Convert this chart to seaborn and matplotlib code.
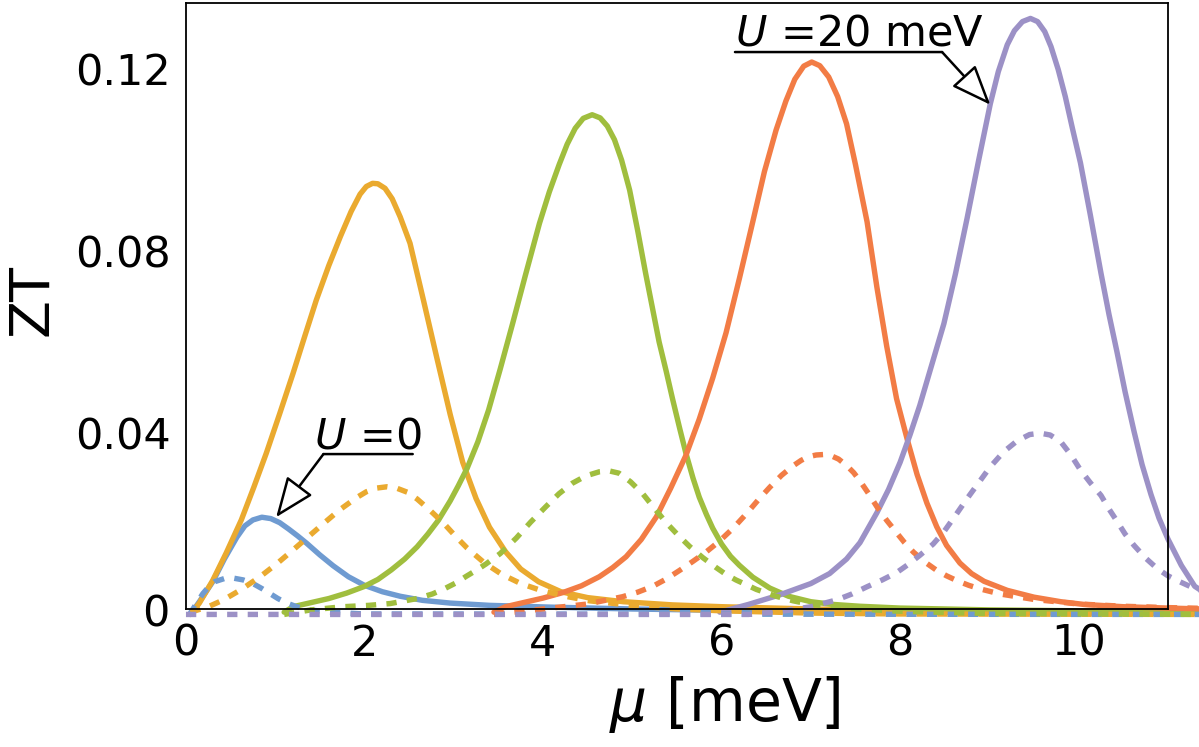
import matplotlib
matplotlib.use("Agg")
import matplotlib.pyplot as plt
import seaborn as sns
import pandas as pd

# ---------------- data ----------------
blue_mu = [0.05, 0.15, 0.30, 0.43, 0.57, 0.66, 0.75, 0.85, 0.95, 1.05, 1.15, 1.25, 1.35, 1.50, 1.65, 1.82, 2.00, 2.20, 2.40, 2.65, 2.96, 3.40, 4.10, 5.0, 6.0, 7.0, 8.0, 9.0, 10.0, 11.4]
blue_zt = [0.0, 0.0028, 0.0072, 0.0122, 0.0170, 0.0195, 0.0208, 0.0214, 0.0211, 0.0202, 0.0188, 0.0173, 0.0157, 0.0131, 0.0107, 0.0083, 0.0064, 0.0050, 0.0040, 0.0031, 0.0025, 0.0020, 0.0016, 0.0012, 0.0009, 0.0007, 0.0005, 0.0004, 0.0003, 0.0002]

orange_mu = [0.05, 0.15, 0.30, 0.45, 0.62, 0.76, 0.90, 1.05, 1.20, 1.33, 1.46, 1.60, 1.73, 1.85, 1.95, 2.02, 2.09, 2.15, 2.23, 2.31, 2.40, 2.51, 2.66, 2.81, 2.96, 3.10, 3.25, 3.40, 3.58, 3.75, 3.95, 4.20, 4.50, 4.90, 5.45, 6.0, 7.0, 8.0, 9.0, 10.0, 11.4]
orange_zt = [0.0, 0.0025, 0.0075, 0.0135, 0.0208, 0.0280, 0.0355, 0.0442, 0.0531, 0.0612, 0.0692, 0.0768, 0.0832, 0.0887, 0.0925, 0.0942, 0.0949, 0.0948, 0.0938, 0.0915, 0.0875, 0.0817, 0.0692, 0.0565, 0.0440, 0.0335, 0.0255, 0.0192, 0.0138, 0.0100, 0.0072, 0.0050, 0.0037, 0.0028, 0.0021, 0.0017, 0.0012, 0.0009, 0.0007, 0.0006, 0.0005]

green_mu = [1.10, 1.20, 1.40, 1.60, 1.80, 1.99, 2.15, 2.30, 2.45, 2.59, 2.71, 2.83, 2.96, 3.05, 3.15, 3.27, 3.39, 3.52, 3.66, 3.80, 3.96, 4.07, 4.18, 4.27, 4.36, 4.45, 4.55, 4.64, 4.72, 4.80, 4.88, 4.97, 5.06, 5.15, 5.23, 5.30, 5.38, 5.45, 5.53, 5.60, 5.68, 5.75, 5.83, 5.90, 6.00, 6.10, 6.20, 6.35, 6.54, 6.75, 7.0, 7.25, 7.55, 8.0, 9.0, 10.0, 11.4]
green_zt = [0.0005, 0.0017, 0.0026, 0.0035, 0.0047, 0.0061, 0.0077, 0.0098, 0.0122, 0.0149, 0.0177, 0.0208, 0.0250, 0.0283, 0.0322, 0.0380, 0.0450, 0.0540, 0.0641, 0.0745, 0.0861, 0.0930, 0.0990, 0.1035, 0.1070, 0.1092, 0.1100, 0.1093, 0.1075, 0.1045, 0.1000, 0.0934, 0.0845, 0.0750, 0.0670, 0.0600, 0.0535, 0.0475, 0.0410, 0.0355, 0.0300, 0.0258, 0.0220, 0.0190, 0.0155, 0.0128, 0.0108, 0.0082, 0.0058, 0.0040, 0.0028, 0.0022, 0.0018, 0.0014, 0.0010, 0.0008, 0.0006]

red_mu = [3.45, 3.58, 3.80, 4.00, 4.22, 4.43, 4.63, 4.78, 4.93, 5.10, 5.27, 5.43, 5.60, 5.75, 5.90, 6.05, 6.20, 6.35, 6.48, 6.61, 6.72, 6.82, 6.92, 7.01, 7.10, 7.20, 7.30, 7.40, 7.50, 7.63, 7.74, 7.85, 7.96, 8.08, 8.19, 8.30, 8.41, 8.52, 8.67, 8.80, 8.94, 9.20, 9.50, 9.80, 10.06, 10.5, 11.0, 11.4]
red_zt = [0.0005, 0.0017, 0.0027, 0.0036, 0.0048, 0.0063, 0.0083, 0.0103, 0.0127, 0.0165, 0.0215, 0.0278, 0.0350, 0.0430, 0.0520, 0.0620, 0.0740, 0.0865, 0.0975, 0.1066, 0.1130, 0.1178, 0.1207, 0.1216, 0.1208, 0.1183, 0.1140, 0.1080, 0.0990, 0.0864, 0.0720, 0.0590, 0.0475, 0.0385, 0.0308, 0.0245, 0.0193, 0.0152, 0.0113, 0.0090, 0.0073, 0.0053, 0.0038, 0.0028, 0.0022, 0.0017, 0.0014, 0.0012]

purple_mu = [5.98, 6.30, 6.65, 7.00, 7.21, 7.40, 7.55, 7.74, 7.87, 8.00, 8.11, 8.22, 8.37, 8.49, 8.62, 8.75, 8.88, 9.01, 9.10, 9.20, 9.28, 9.37, 9.46, 9.54, 9.62, 9.69, 9.77, 9.85, 9.93, 10.02, 10.13, 10.25, 10.34, 10.43, 10.52, 10.62, 10.71, 10.81, 10.90, 11.0, 11.15, 11.3, 11.5]
purple_zt = [0.0005, 0.0022, 0.0043, 0.0068, 0.0090, 0.0122, 0.0158, 0.0224, 0.0275, 0.0335, 0.0395, 0.0460, 0.0560, 0.0640, 0.0750, 0.0872, 0.1000, 0.1124, 0.1195, 0.1254, 0.1285, 0.1305, 0.1312, 0.1305, 0.1283, 0.1250, 0.1200, 0.1140, 0.1070, 0.0994, 0.0880, 0.0751, 0.0660, 0.0577, 0.0490, 0.0403, 0.0330, 0.0264, 0.0212, 0.0166, 0.0108, 0.0062, 0.0036]

blue_d_mu = [0.04, 0.12, 0.19, 0.26, 0.32, 0.43, 0.53, 0.64, 0.75, 0.85, 0.94, 1.03, 1.13, 1.24, 1.35, 1.60, 2.00, 11.5]
blue_d_zt = [0.0, 0.0025, 0.0046, 0.0062, 0.0072, 0.0079, 0.0080, 0.0076, 0.0068, 0.0057, 0.0046, 0.0035, 0.0025, 0.0017, 0.0011, 0.0005, 0.0001, 0.0]

orange_d_mu = [0.05, 0.25, 0.42, 0.62, 0.83, 1.02, 1.20, 1.37, 1.54, 1.72, 1.91, 2.02, 2.13, 2.25, 2.36, 2.48, 2.59, 2.74, 2.89, 3.02, 3.15, 3.34, 3.54, 3.75, 3.96, 4.25, 4.52, 5.08, 5.50, 6.0, 7.0, 8.0, 11.5]
orange_d_zt = [0.0005, 0.0017, 0.0032, 0.0055, 0.0083, 0.0112, 0.0142, 0.0171, 0.0200, 0.0230, 0.0257, 0.0270, 0.0278, 0.0281, 0.0278, 0.0269, 0.0254, 0.0228, 0.0200, 0.0172, 0.0146, 0.0114, 0.0088, 0.0068, 0.0054, 0.0040, 0.0030, 0.0018, 0.0012, 0.0008, 0.0003, 0.0001, 0.0]

green_d_mu = [1.10, 1.40, 1.76, 2.05, 2.29, 2.59, 2.76, 2.91, 3.03, 3.14, 3.25, 3.36, 3.52, 3.70, 3.86, 4.03, 4.18, 4.33, 4.48, 4.63, 4.74, 4.85, 4.98, 5.12, 5.25, 5.38, 5.51, 5.64, 5.79, 5.94, 6.05, 6.16, 6.39, 6.61, 6.80, 7.0, 7.5, 8.0, 9.0, 11.5]
green_d_zt = [0.0, 0.0010, 0.0017, 0.0020, 0.0024, 0.0035, 0.0045, 0.0058, 0.0070, 0.0084, 0.0097, 0.0111, 0.0134, 0.0168, 0.0203, 0.0237, 0.0266, 0.0289, 0.0305, 0.0314, 0.0316, 0.0311, 0.0292, 0.0265, 0.0233, 0.0202, 0.0175, 0.0150, 0.0125, 0.0103, 0.0088, 0.0076, 0.0055, 0.0040, 0.0030, 0.0022, 0.0012, 0.0007, 0.0002, 0.0]

red_d_mu = [3.45, 4.0, 4.5, 4.89, 5.06, 5.23, 5.38, 5.53, 5.68, 5.83, 5.98, 6.13, 6.28, 6.41, 6.54, 6.67, 6.80, 6.89, 6.97, 7.06, 7.14, 7.22, 7.31, 7.40, 7.48, 7.55, 7.65, 7.74, 7.85, 7.96, 8.05, 8.15, 8.28, 8.41, 8.52, 8.64, 8.77, 8.90, 9.12, 9.5, 10.0, 10.5, 11.0, 11.5]
red_d_zt = [0.0, 0.0012, 0.0023, 0.0039, 0.0049, 0.0062, 0.0078, 0.0097, 0.0117, 0.0138, 0.0162, 0.0190, 0.0222, 0.0252, 0.0280, 0.0306, 0.0327, 0.0339, 0.0347, 0.0351, 0.0352, 0.0350, 0.0342, 0.0328, 0.0312, 0.0294, 0.0265, 0.0237, 0.0207, 0.0180, 0.0158, 0.0137, 0.0115, 0.0097, 0.0085, 0.0074, 0.0064, 0.0056, 0.0045, 0.0033, 0.0023, 0.0018, 0.0015, 0.0013]

purple_d_mu = [0.0, 6.30, 6.65, 7.0, 7.29, 7.46, 7.63, 7.80, 7.96, 8.09, 8.22, 8.37, 8.49, 8.62, 8.75, 8.88, 9.01, 9.16, 9.31, 9.45, 9.57, 9.68, 9.80, 9.91, 10.02, 10.13, 10.25, 10.34, 10.43, 10.52, 10.62, 10.75, 10.88, 11.0, 11.11, 11.3, 11.5]
purple_d_zt = [0.0, 0.0, 0.0006, 0.0017, 0.0032, 0.0045, 0.0061, 0.0076, 0.0092, 0.0110, 0.0130, 0.0155, 0.0182, 0.0218, 0.0255, 0.0290, 0.0325, 0.0358, 0.0382, 0.0396, 0.0399, 0.0395, 0.0380, 0.0352, 0.0318, 0.0290, 0.0262, 0.0232, 0.0205, 0.0177, 0.0152, 0.0124, 0.0101, 0.0085, 0.0074, 0.0057, 0.0045]

x_ticks = [0, 2, 4, 6, 8, 10]
y_ticks = [0.04, 0.08, 0.12]
y_ticklabels = ["0.04", "0.08", "0.12"]

colors = {"blue": "#6f9bd1", "orange": "#eaaa2f", "green": "#a0be3e",
          "red": "#f27c45", "purple": "#9c91c6"}

# ---------------- plotting ----------------
sns.set_style("white")
plt.rcParams["font.family"] = ["DejaVu Sans"]
plt.rcParams["mathtext.fontset"] = "dejavusans"
plt.rcParams["text.color"] = "black"
plt.rcParams["axes.labelcolor"] = "black"
plt.rcParams["xtick.color"] = "black"
plt.rcParams["ytick.color"] = "black"

fig = plt.figure(figsize=(11.99, 7.47), dpi=100)
ax = fig.add_axes([0.1551, 0.1847, 0.8190, 0.8113])

LW = 3.9
solid = [(blue_mu, blue_zt, "blue"), (orange_mu, orange_zt, "orange"),
         (green_mu, green_zt, "green"), (red_mu, red_zt, "red"),
         (purple_mu, purple_zt, "purple")]
dashed = [(blue_d_mu, blue_d_zt, "blue"), (orange_d_mu, orange_d_zt, "orange"),
          (green_d_mu, green_d_zt, "green"), (red_d_mu, red_d_zt, "red"),
          (purple_d_mu, purple_d_zt, "purple")]

for mu, zt, c in solid:
    df = pd.DataFrame({"mu": mu, "ZT": zt})
    sns.lineplot(data=df, x="mu", y="ZT", ax=ax, color=colors[c], lw=LW,
                 estimator=None, sort=False, clip_on=False, zorder=3,
                 solid_joinstyle="round")
for mu, zt, c in dashed:
    df = pd.DataFrame({"mu": mu, "ZT": zt})
    sns.lineplot(data=df, x="mu", y="ZT", ax=ax, color=colors[c], lw=LW,
                 estimator=None, sort=False, clip_on=False, zorder=4,
                 linestyle=(0, (1.9, 1.9)))

ax.set_xlim(0, 11)
ax.set_ylim(0.00119, 0.1346)
ax.set_xticks(x_ticks)
ax.set_xticklabels([str(t) for t in x_ticks])
ax.set_yticks(y_ticks)
ax.set_yticklabels(y_ticklabels)
ax.tick_params(direction="in", length=7, width=1.2, labelsize=31, pad=10,
               top=False, right=False, colors="black")
ax.tick_params(axis="y", pad=11)
# zero tick label sits just below the frame
ax.text(-0.0163, 0.0, "0", transform=ax.get_yaxis_transform(), ha="right",
        va="center", fontsize=31, color="black", clip_on=False)

for s in ax.spines.values():
    s.set_linewidth(1.3)
    s.set_color("black")
    s.set_zorder(5)

ax.set_xlabel(r"$\mu$ [meV]", fontsize=42, color="black")
ax.set_ylabel("ZT", fontsize=40, color="black")
ax.xaxis.set_label_coords(0.549, -0.108)
ax.yaxis.set_label_coords(-0.129, 0.51)

# annotations
arrow_kw = dict(arrowstyle="-|>,head_length=1.25,head_width=0.5", fc="white",
                ec="black", lw=1.8, shrinkA=0, shrinkB=0, mutation_scale=20)
line_kw = dict(arrowstyle="-", color="black", lw=1.8, shrinkA=0, shrinkB=0)

ax.text(1.43, 0.0366, r"$U$ =0", fontsize=31, va="baseline", ha="left",
        color="black")
ax.annotate("", xy=(2.54, 0.0353), xytext=(1.54, 0.0353), arrowprops=line_kw)
ax.annotate("", xy=(1.01, 0.0214), xytext=(1.54, 0.0353), arrowprops=arrow_kw)

ax.text(6.15, 0.1252, r"$U$ =20 meV", fontsize=31, va="baseline", ha="left",
        color="black")
ax.annotate("", xy=(8.47, 0.1238), xytext=(6.15, 0.1238), arrowprops=line_kw)
ax.annotate("", xy=(9.01, 0.1122), xytext=(8.47, 0.1238), arrowprops=arrow_kw)

fig.savefig("out.png", dpi=100)
